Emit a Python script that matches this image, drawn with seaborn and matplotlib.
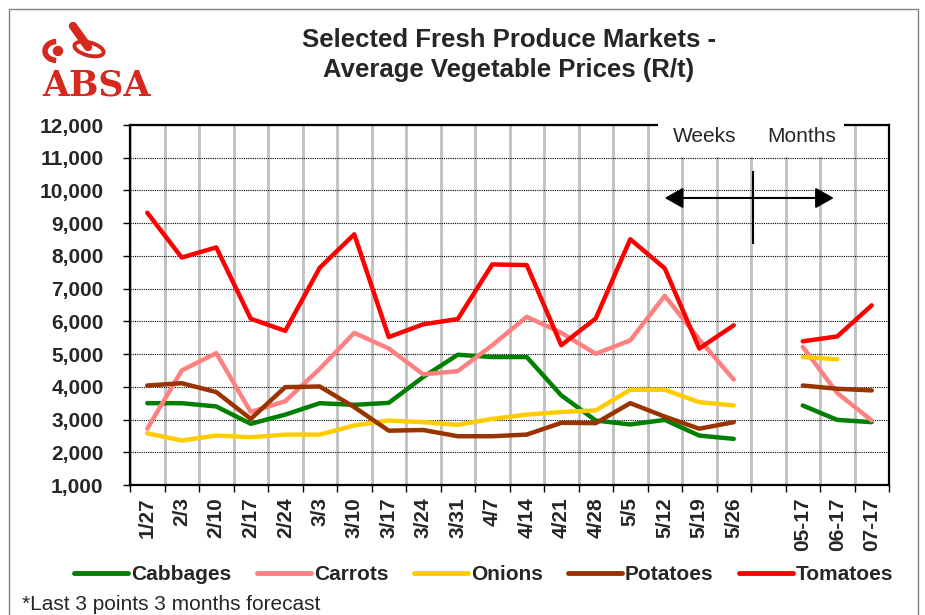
import matplotlib.pyplot as plt
import matplotlib.patches as mpatches
import numpy as np
import pandas as pd
import seaborn as sns
from matplotlib.ticker import FuncFormatter

sns.set_theme(style="white")
plt.rcParams["font.family"] = ["Liberation Sans", "DejaVu Sans"]

# Values (R/t). Weekly prices, then the 3 month forecast.
week_labels = ["1/27", "2/3", "2/10", "2/17", "2/24", "3/3", "3/10", "3/17", "3/24",
               "3/31", "4/7", "4/14", "4/21", "4/28", "5/5", "5/12", "5/19", "5/26"]
month_labels = ["05-17", "06-17", "07-17"]

cabbages_weeks = [3500, 3500, 3400, 2870, 3150, 3500, 3450, 3510, 4300,
                  4980, 4910, 4910, 3740, 2970, 2850, 2990, 2510, 2410]
cabbages_months = [3430, 2990, 2920]
carrots_weeks = [2720, 4500, 5030, 3230, 3560, 4550, 5650, 5170, 4380,
                 4480, 5270, 6140, 5650, 5010, 5420, 6780, 5450, 4220]
carrots_months = [5220, 3810, 2970]
onions_weeks = [2580, 2360, 2510, 2460, 2540, 2540, 2820, 2970, 2920,
                2840, 3020, 3150, 3230, 3280, 3910, 3910, 3530, 3430]
onions_months = [4910, 4840, np.nan]
potatoes_weeks = [4040, 4110, 3840, 3020, 3990, 4010, 3380, 2660, 2680,
                  2490, 2490, 2540, 2900, 2890, 3500, 3090, 2720, 2920]
potatoes_months = [4040, 3940, 3890]
tomatoes_weeks = [9320, 7950, 8260, 6080, 5710, 7640, 8660, 5520, 5910,
                  6070, 7740, 7720, 5270, 6090, 8510, 7620, 5170, 5880]
tomatoes_months = [5390, 5540, 6490]

series = {
    "Cabbages": (cabbages_weeks, cabbages_months),
    "Carrots": (carrots_weeks, carrots_months),
    "Onions": (onions_weeks, onions_months),
    "Potatoes": (potatoes_weeks, potatoes_months),
    "Tomatoes": (tomatoes_weeks, tomatoes_months),
}
colors = {
    "Cabbages": "#008000",
    "Carrots": "#ff8080",
    "Onions": "#ffcc00",
    "Potatoes": "#993300",
    "Tomatoes": "#ff0000",
}

# one empty slot between the weeks and the months
week_pos = list(range(len(week_labels)))
month_pos = [len(week_labels) + 1 + i for i in range(len(month_labels))]
n_slots = len(week_labels) + 1 + len(month_labels)

rows = []
for veg, (wk, mo) in series.items():
    for p, v in zip(week_pos, wk):
        rows.append({"pos": p, "price": v, "veg": veg, "period": "weeks"})
    for p, v in zip(month_pos, mo):
        rows.append({"pos": p, "price": v, "veg": veg, "period": "months"})
df = pd.DataFrame(rows).dropna()

########################################################################################
fig = plt.figure(figsize=(9.25, 6.15), dpi=100)
ax = fig.add_axes([130 / 925, 1 - 485 / 615, 759 / 925, 360 / 615])

sns.lineplot(
    data=df,
    x="pos",
    y="price",
    hue="veg",
    units="period",
    estimator=None,
    palette=colors,
    linewidth=3.2,
    solid_capstyle="round",
    solid_joinstyle="round",
    ax=ax,
)

ax.set_xlim(-0.5, n_slots - 0.5)
ax.set_ylim(1000, 12000)
ax.set_yticks(np.arange(1000, 12001, 1000))
ax.yaxis.set_major_formatter(FuncFormatter(lambda v, _: f"{v:,.0f}"))
ax.set_xticks(week_pos + month_pos)
ax.set_xticklabels(week_labels + month_labels)
ax.set_xticks(np.arange(-0.5, n_slots, 1), minor=True)
ax.set_xlabel("")
ax.set_ylabel("")

ax.tick_params(axis="x", which="major", length=0, pad=9, labelrotation=90, labelsize=15)
ax.tick_params(axis="x", which="minor", length=5, width=1, color="black", direction="out", bottom=True)
ax.tick_params(axis="y", length=5, width=1, color="black", direction="out", left=True,
               pad=14, labelsize=15)
for lbl in ax.get_xticklabels() + ax.get_yticklabels():
    lbl.set_fontweight("bold")

ax.grid(axis="x", which="minor", color="#c0c0c0", linewidth=2)
ax.grid(axis="y", which="major", color="black", linestyle=(0, (1, 1)), linewidth=0.8)
ax.set_axisbelow(True)
for sp in ax.spines.values():
    sp.set_color("black")
    sp.set_linewidth(1.6)

# Weeks / Months marker
ax.add_patch(mpatches.Rectangle((0.6957, 0.911), 0.245, 0.12, transform=ax.transAxes,
                                facecolor="white", edgecolor="none", zorder=3, clip_on=False))
ax.text(0.7576, 0.9667, "Weeks", transform=ax.transAxes, ha="center", va="center",
        fontsize=15, zorder=4)
ax.text(0.8854, 0.9667, "Months", transform=ax.transAxes, ha="center", va="center",
        fontsize=15, zorder=4)
ax.annotate("", xy=(15.0, 9770), xytext=(19.9, 9770),
            arrowprops=dict(arrowstyle="<|-|>,head_length=0.8,head_width=0.45",
                            color="black", lw=1.5, mutation_scale=14, shrinkA=0, shrinkB=0))
ax.vlines(17.55, 8360, 10600, color="black", linewidth=1.5)

# legend below the chart
handles, labels = ax.get_legend_handles_labels()
ax.get_legend().remove()
leg = fig.legend(handles, labels, loc="center", bbox_to_anchor=(0.523, 1 - 575 / 615),
                 ncol=5, frameon=False, handlelength=2.6, handletextpad=0.15,
                 columnspacing=1.2, prop={"size": 15, "weight": "bold"})
for h in leg.legend_handles:
    h.set_linewidth(3.5)
    h.set_solid_capstyle("round")

# titles and footnote
fig.text(509 / 925, 1 - 40 / 615, "Selected Fresh Produce Markets -", ha="center",
         va="center", fontsize=18.5, weight="bold")
fig.text(509 / 925, 1 - 70 / 615, "Average Vegetable Prices (R/t)", ha="center",
         va="center", fontsize=18.5, weight="bold")
fig.text(22 / 925, 1 - 605 / 615, "*Last 3 points 3 months forecast", va="center", fontsize=15)

# ABSA logo
red = "#d6281e"
lax = fig.add_axes([30 / 925, 1 - 105 / 615, 140 / 925, 90 / 615])
lax.set_xlim(30, 170)
lax.set_ylim(105, 15)
lax.axis("off")
lax.add_patch(mpatches.Circle((58, 51), 4.5, color=red))
lax.add_patch(mpatches.Arc((57, 51), 24, 19, theta1=95, theta2=265, color=red, lw=4))
lax.plot([73, 88], [26, 47], color=red, lw=6, solid_capstyle="round")
lax.add_patch(mpatches.Ellipse((89, 49), 30, 13, angle=15, fill=False, ec=red, lw=2.8))
lax.text(97, 85, "ABSA", ha="center", va="center", fontsize=25, weight="bold",
         family="DejaVu Serif", color=red)

# outer frame
fig.patches.append(mpatches.Rectangle((9 / 925, -0.1), 909 / 925, 1.1 - 9 / 615,
                                      transform=fig.transFigure, fill=False,
                                      edgecolor="#808080", linewidth=1))

fig.savefig("out.png", dpi=100)
